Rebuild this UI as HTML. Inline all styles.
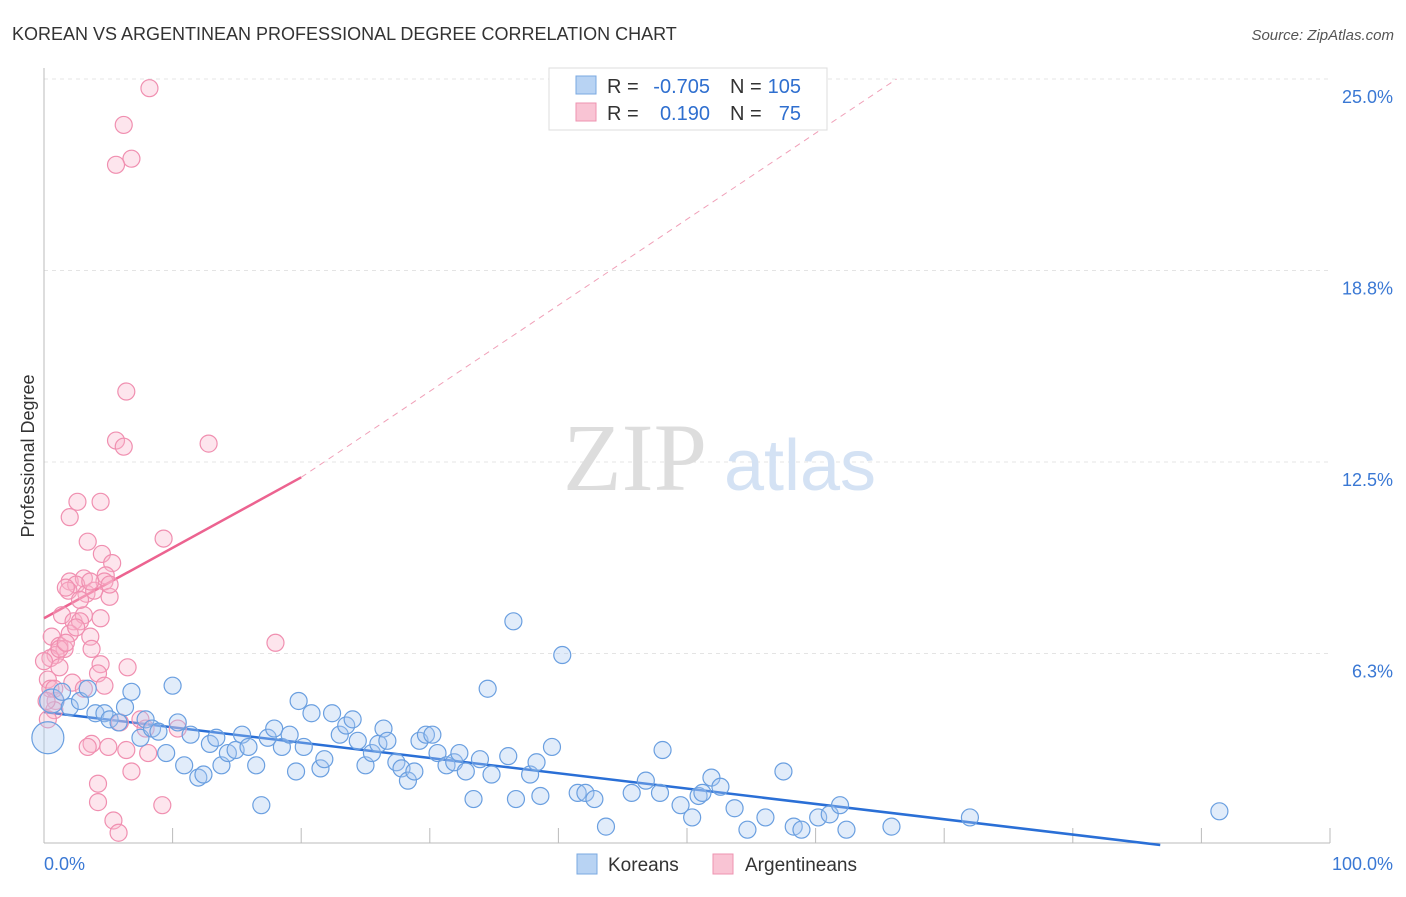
<!DOCTYPE html>
<html><head><meta charset="utf-8"><style>
body{margin:0;background:#fff;font-family:"Liberation Sans",sans-serif}
svg text{font-family:"Liberation Sans",sans-serif}
</style></head><body>
<svg id="chart" width="1406" height="892" xmlns="http://www.w3.org/2000/svg">
<text x="12" y="40" font-size="18" fill="#333">KOREAN VS ARGENTINEAN PROFESSIONAL DEGREE CORRELATION CHART</text>
<text x="1394" y="40" font-size="15" fill="#555" font-style="italic" text-anchor="end">Source: ZipAtlas.com</text>
<g id="grid"></g>
<text x="635" y="490" font-size="96" fill="#ddd" text-anchor="middle" style="font-family:'Liberation Serif',serif">ZIP</text>
<text x="800" y="490" font-size="72" fill="#d4e2f4" text-anchor="middle">atlas</text>
<g id="axes"></g>
<g id="lines"></g>
<g id="pts"></g>
<text x="34" y="456" font-size="18" fill="#333" text-anchor="middle" transform="rotate(-90 34 456)">Professional Degree</text>
<g>
<rect x="549" y="68" width="278" height="62" fill="#fff" stroke="#ddd"/>
<rect x="576" y="76" width="20" height="18" fill="#b8d3f3" stroke="#7aa8e0"/>
<rect x="576" y="103" width="20" height="18" fill="#f9c4d4" stroke="#ee93b0"/>
<text x="607" y="93" font-size="20" fill="#333">R =</text>
<text x="710" y="93" font-size="20" fill="#2f6fcf" text-anchor="end">-0.705</text>
<text x="730" y="93" font-size="20" fill="#333">N =</text>
<text x="801" y="93" font-size="20" fill="#2f6fcf" text-anchor="end">105</text>
<text x="607" y="120" font-size="20" fill="#333">R =</text>
<text x="710" y="120" font-size="20" fill="#2f6fcf" text-anchor="end">0.190</text>
<text x="730" y="120" font-size="20" fill="#333">N =</text>
<text x="801" y="120" font-size="20" fill="#2f6fcf" text-anchor="end">75</text>
</g>
<g>
<rect x="577" y="854" width="20" height="20" fill="#b8d3f3" stroke="#7aa8e0"/>
<text x="608" y="871" font-size="19" fill="#333">Koreans</text>
<rect x="713" y="854" width="20" height="20" fill="#f9c4d4" stroke="#ee93b0"/>
<text x="745" y="871" font-size="19" fill="#333">Argentineans</text>
</g>
</svg>
<script>
const yTicks=[6.25,12.5,18.75,25];
const yTickLabels=["6.3%","12.5%","18.8%","25.0%"];
const xTicks=[0,10,20,30,40,50,60,70,80,90,100];
const koreanX=[0.3,0.6,1.4,2.0,2.8,3.4,4.0,4.7,5.1,5.8,6.3,6.8,7.5,7.9,8.4,8.9,9.5,10.0,10.4,10.9,11.4,12.0,12.4,12.9,13.4,13.8,14.3,14.9,15.4,15.9,16.5,16.9,17.4,17.9,18.5,19.1,19.6,19.8,20.2,20.8,21.5,21.8,22.4,23.0,23.5,24.0,24.4,25.0,25.5,26.0,26.4,26.7,27.4,27.8,28.3,28.8,29.2,29.7,30.2,30.6,31.3,31.9,32.3,32.8,33.4,33.9,34.5,34.8,36.1,36.5,36.7,37.8,38.3,38.6,39.5,40.3,41.5,42.1,42.8,43.7,45.7,46.8,47.9,48.1,49.5,50.4,50.9,51.2,51.9,52.6,53.7,54.7,56.1,57.5,58.3,58.9,60.2,61.1,61.9,62.4,65.9,72.0,91.4];
const koreanY=[3.5,4.7,5.0,4.5,4.7,5.1,4.3,4.3,4.1,4.0,4.5,5.0,3.5,4.1,3.8,3.7,3.0,5.2,4.0,2.6,3.6,2.2,2.3,3.3,3.5,2.6,3.0,3.1,3.6,3.2,2.6,1.3,3.5,3.8,3.2,3.6,2.4,4.7,3.2,4.3,2.5,2.8,4.3,3.6,3.9,4.1,3.4,2.6,3.0,3.3,3.8,3.4,2.7,2.5,2.1,2.4,3.4,3.6,3.6,3.0,2.6,2.7,3.0,2.4,1.5,2.8,5.1,2.3,2.9,7.3,1.5,2.3,2.7,1.6,3.2,6.2,1.7,1.7,1.5,0.6,1.7,2.1,1.7,3.1,1.3,0.9,1.6,1.7,2.2,1.9,1.2,0.5,0.9,2.4,0.6,0.5,0.9,1.0,1.3,0.5,0.6,0.9,1.1];
const argX=[8.2,6.2,6.8,5.6,6.4,5.6,12.8,6.2,2.6,4.4,2.0,9.3,3.4,4.5,5.3,4.8,2.0,3.1,2.5,4.7,1.9,3.3,5.1,3.9,1.4,2.3,3.1,2.8,2.0,3.6,0.6,1.2,1.6,0.9,0.5,3.7,4.4,6.5,4.2,18.0,1.2,0.3,2.2,4.7,0.5,0.9,3.1,0.8,0.3,5.9,7.5,7.9,10.4,3.7,3.4,5.0,6.4,8.1,6.8,4.2,4.2,9.2,5.4,5.8,0.0,1.2,1.7,2.5,2.8,1.7,3.6,5.1,4.4,0.8,0.2];
const argY=[24.7,23.5,22.4,22.2,14.8,13.2,13.1,13.0,11.2,11.2,10.7,10.0,9.9,9.5,9.2,8.8,8.6,8.7,8.5,8.6,8.3,8.2,8.1,8.3,7.5,7.3,7.5,7.3,6.9,6.8,6.8,6.5,6.4,6.2,6.1,6.4,5.9,5.8,5.6,6.6,5.8,5.4,5.3,5.2,5.1,4.7,5.1,4.4,4.1,4.0,4.1,3.8,3.8,3.3,3.2,3.2,3.1,3.0,2.4,2.0,1.4,1.3,0.8,0.4,6.0,6.4,6.6,7.1,8.0,8.4,8.6,8.5,7.4,5.1,4.7];
const koreanTrendX=[0,86.8], koreanTrendY=[4.34,0];
const argTrendX=[0,20], argTrendY=[7.4,12.0];
const argDashX=[20,66.3], argDashY=[12.0,25.0];

const NS="http://www.w3.org/2000/svg";
const sx=v=>44+v*12.86, sy=v=>845-v*30.64;
function mk(tag,attrs,parent){const e=document.createElementNS(NS,tag);for(const k in attrs)e.setAttribute(k,attrs[k]);document.getElementById(parent).appendChild(e);return e;}
yTicks.forEach((t,i)=>{
 const g=mk('line',{x1:44,x2:1330,y1:sy(t),y2:sy(t),stroke:'#e4e4e4','stroke-dasharray':'4,4'},'grid');
 
 
 const l=mk('text',{x:1393,y:sy(t)+24,'font-size':18,fill:'#3a78d4','text-anchor':'end'},'axes');
 l.textContent=yTickLabels[i];
 
 
});
const ax=mk('line',{x1:44,x2:1330,y1:843,y2:843,stroke:'#bbb'},'axes');


const ay=mk('line',{x1:44,x2:44,y1:68,y2:843,stroke:'#bbb'},'axes');


xTicks.forEach(t=>{const e=mk('line',{x1:sx(t),x2:sx(t),y1:828,y2:843,stroke:'#bbb'},'axes');
 
 });
const x0=mk('text',{x:44,y:870,'font-size':18,fill:'#3a78d4'},'axes');x0.textContent='0.0%';


const x1=mk('text',{x:1393,y:870,'font-size':18,fill:'#3a78d4','text-anchor':'end'},'axes');x1.textContent='100.0%';



argX.forEach((x,i)=>{const c=mk('circle',{cx:sx(x),cy:sy(argY[i]),r:8.5,fill:'rgba(248,180,202,0.35)',stroke:'#f08fb0','stroke-width':1.2},'pts');
 
 });
koreanX.forEach((x,i)=>{const r=i===0?16:(i===1?12:8.5);const c=mk('circle',{cx:sx(x),cy:sy(koreanY[i]),r:r,fill:'rgba(170,200,240,0.35)',stroke:'#6a9fe0','stroke-width':1.2},'pts');
 
 });
const kl=mk('line',{x1:sx(koreanTrendX[0]),y1:sy(koreanTrendY[0]),x2:sx(koreanTrendX[1]),y2:sy(koreanTrendY[1]),stroke:'#2a6fd6','stroke-width':2.5},'lines');


const al=mk('line',{x1:sx(argTrendX[0]),y1:sy(argTrendY[0]),x2:sx(argTrendX[1]),y2:sy(argTrendY[1]),stroke:'#ec6390','stroke-width':2.5},'lines');


const ad=mk('line',{x1:sx(argDashX[0]),y1:sy(argDashY[0]),x2:sx(argDashX[1]),y2:sy(argDashY[1]),stroke:'#f0a0b8','stroke-width':1,'stroke-dasharray':'6,5'},'lines');


</script>
</body></html>
